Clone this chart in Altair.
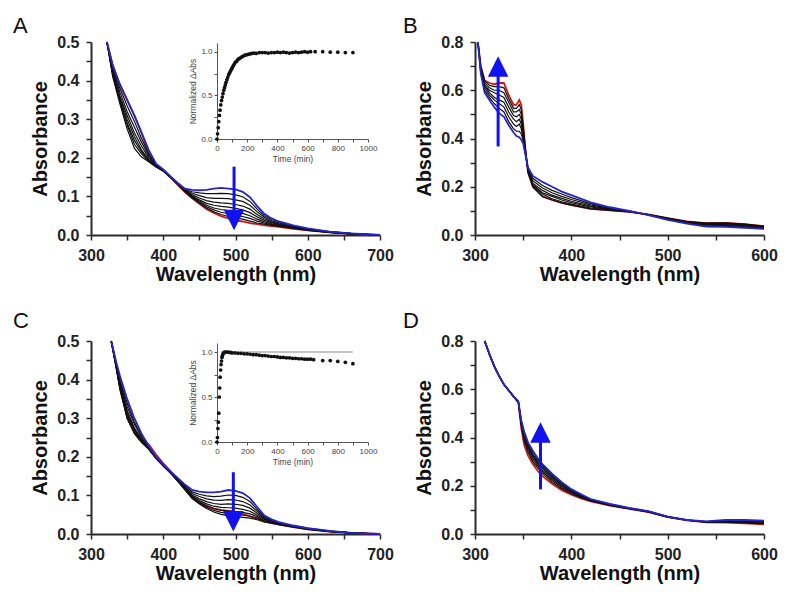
import altair as alt
import pandas as pd

# ---------------- Panel A spectra (curves ordered blue -> black ... -> red) ----------------
A_wl = [322, 330, 340, 350, 360, 370, 380, 390, 400, 410, 420, 430, 440, 450, 460, 470, 480,
        490, 500, 510, 520, 530, 540, 550, 560, 580, 600, 630, 660, 700]
A_rows = [
    [.50, .50, .50, .50, .50, .50, .50, .50, .50],
    [.44, .435, .43, .425, .42, .42, .415, .41, .44],
    [.39, .38, .37, .36, .355, .35, .345, .34, .39],
    [.35, .335, .32, .31, .30, .29, .285, .275, .35],
    [.31, .295, .28, .265, .255, .245, .235, .225, .31],
    [.265, .25, .24, .23, .22, .215, .21, .202, .265],
    [.22, .21, .205, .20, .195, .193, .19, .19, .21],
    [.185, .183, .181, .18, .179, .178, .177, .176, .178],
    [.17, .169, .168, .168, .167, .167, .166, .166, .166],
    [.152, .152, .151, .151, .15, .15, .15, .149, .149],
    [.135, .134, .134, .133, .132, .132, .131, .131, .13],
    [.12, .119, .117, .116, .115, .114, .113, .112, .111],
    [.117, .112, .108, .104, .101, .099, .097, .096, .095],
    [.116, .109, .102, .096, .091, .088, .085, .083, .081],
    [.117, .107, .097, .089, .082, .077, .073, .07, .067],
    [.12, .107, .095, .085, .077, .07, .065, .06, .057],
    [.122, .108, .095, .083, .074, .066, .059, .053, .049],
    [.12, .107, .094, .082, .072, .063, .055, .048, .043],
    [.118, .104, .091, .079, .069, .059, .051, .044, .038],
    [.112, .099, .087, .075, .065, .056, .048, .041, .035],
    [.098, .087, .077, .067, .058, .05, .043, .036, .031],
    [.075, .067, .06, .053, .047, .041, .036, .031, .028],
    [.055, .05, .046, .042, .038, .034, .031, .028, .025],
    [.043, .04, .037, .034, .032, .029, .027, .025, .023],
    [.035, .033, .031, .029, .027, .025, .023, .022, .021],
    [.025, .024, .022, .021, .02, .019, .018, .017, .016],
    [.017, .016, .015, .014, .014, .013, .013, .012, .012],
    [.009, .009, .008, .008, .008, .007, .007, .007, .007],
    [.004, .004, .004, .003, .003, .003, .003, .003, .003],
    [.0, .0, .0, .0, .0, .0, .0, .0, .0],
]
A_names = ["blue", "k1", "k2", "k3", "k4", "k5", "k6", "k7", "red"]

# ---------------- Panel B spectra (red -> black ... -> blue) ----------------
B_wl = [303, 306, 310, 315, 320, 325, 330, 335, 340, 343, 346, 348, 350, 352, 355, 360, 370,
        380, 390, 400, 420, 440, 460, 480, 500, 520, 540, 560, 580, 600]
B_rows = [
    [.80, .80, .80, .80, .80, .80, .80, .80],
    [.70, .70, .69, .69, .68, .68, .67, .67],
    [.64, .64, .63, .62, .62, .61, .60, .59],
    [.63, .62, .61, .60, .59, .58, .57, .56],
    [.625, .615, .60, .59, .57, .56, .545, .53],
    [.63, .615, .60, .58, .56, .545, .525, .505],
    [.63, .61, .59, .57, .55, .53, .51, .49],
    [.58, .565, .55, .53, .51, .49, .47, .455],
    [.54, .525, .51, .495, .48, .46, .44, .425],
    [.54, .525, .51, .49, .47, .45, .43, .41],
    [.56, .54, .52, .50, .48, .46, .43, .405],
    [.54, .52, .50, .48, .46, .44, .42, .395],
    [.46, .45, .44, .42, .41, .40, .39, .38],
    [.37, .37, .36, .355, .35, .345, .34, .34],
    [.26, .26, .265, .27, .27, .275, .28, .28],
    [.20, .20, .205, .21, .215, .225, .235, .245],
    [.16, .16, .17, .175, .185, .195, .205, .22],
    [.145, .145, .15, .16, .165, .175, .185, .20],
    [.133, .133, .138, .145, .152, .16, .17, .18],
    [.124, .124, .128, .134, .14, .147, .155, .165],
    [.108, .108, .112, .116, .12, .125, .13, .135],
    [.102, .102, .104, .106, .108, .11, .112, .115],
    [.096, .096, .097, .098, .098, .099, .10, .10],
    [.085, .085, .085, .084, .084, .083, .083, .082],
    [.07, .07, .069, .068, .067, .066, .065, .063],
    [.056, .056, .055, .054, .052, .05, .049, .047],
    [.049, .049, .048, .046, .044, .041, .038, .035],
    [.05, .05, .048, .046, .043, .04, .037, .034],
    [.045, .045, .043, .041, .038, .035, .032, .03],
    [.037, .037, .035, .033, .031, .029, .027, .025],
]
B_names = ["red", "k1", "k2", "k3", "k4", "k5", "k6", "blue"]

# ---------------- Panel C spectra (blue -> black ... -> red) ----------------
C_wl = [328, 335, 340, 350, 360, 370, 380, 390, 400, 410, 420, 430, 440, 450, 460, 470, 480,
        490, 500, 510, 520, 530, 540, 550, 560, 580, 600, 630, 660, 700]
C_rows = [
    [.50, .50, .50, .50, .50, .50, .50, .50, .50],
    [.445, .44, .44, .435, .435, .43, .43, .43, .435],
    [.41, .40, .395, .39, .385, .38, .375, .375, .385],
    [.35, .34, .33, .32, .31, .305, .30, .30, .315],
    [.30, .29, .285, .275, .27, .265, .262, .26, .27],
    [.26, .255, .25, .245, .242, .24, .238, .237, .245],
    [.228, .226, .224, .222, .221, .22, .22, .22, .232],
    [.20, .199, .198, .197, .197, .196, .196, .196, .206],
    [.18, .179, .178, .178, .177, .177, .176, .176, .183],
    [.162, .161, .16, .16, .159, .159, .158, .158, .163],
    [.145, .143, .141, .14, .139, .138, .137, .137, .14],
    [.128, .125, .122, .12, .118, .116, .115, .114, .117],
    [.114, .109, .105, .101, .098, .095, .093, .092, .096],
    [.11, .103, .097, .091, .087, .083, .08, .078, .083],
    [.108, .099, .091, .084, .078, .073, .069, .066, .073],
    [.108, .097, .088, .079, .072, .066, .061, .057, .066],
    [.11, .098, .087, .077, .069, .062, .056, .051, .062],
    [.114, .101, .089, .078, .068, .06, .053, .047, .06],
    [.112, .10, .088, .077, .067, .058, .051, .045, .057],
    [.106, .095, .084, .074, .064, .056, .049, .043, .052],
    [.093, .084, .075, .067, .059, .052, .046, .041, .046],
    [.07, .064, .059, .054, .049, .045, .041, .037, .04],
    [.048, .045, .042, .04, .038, .035, .033, .031, .032],
    [.038, .036, .034, .033, .031, .03, .029, .028, .028],
    [.031, .03, .029, .028, .027, .026, .025, .024, .024],
    [.022, .021, .021, .02, .02, .019, .019, .018, .018],
    [.015, .015, .014, .014, .013, .013, .013, .012, .012],
    [.008, .008, .007, .007, .007, .007, .007, .006, .006],
    [.003, .003, .003, .003, .003, .003, .003, .003, .003],
    [.0, .0, .0, .0, .0, .0, .0, .0, .0],
]
C_names = ["blue", "k1", "k2", "k3", "k4", "k5", "k6", "k7", "red"]

# ---------------- Panel D spectra (red -> black ... -> blue) ----------------
D_wl = [310, 315, 320, 325, 330, 335, 340, 345, 348, 351, 355, 360, 365, 370, 380, 390, 400,
        410, 420, 440, 460, 480, 500, 520, 540, 560, 580, 600]
D_rows = [
    [.80, .80, .80, .80, .80, .80, .80, .80],
    [.745, .745, .745, .745, .745, .745, .745, .745],
    [.695, .695, .695, .695, .695, .695, .695, .695],
    [.655, .655, .655, .655, .655, .655, .655, .655],
    [.62, .62, .62, .62, .62, .62, .62, .62],
    [.595, .595, .595, .595, .595, .595, .595, .595],
    [.57, .57, .57, .57, .57, .57, .57, .57],
    [.545, .545, .545, .547, .548, .549, .55, .55],
    [.44, .45, .455, .46, .463, .466, .47, .472],
    [.37, .385, .395, .40, .41, .415, .42, .425],
    [.325, .34, .35, .36, .365, .37, .375, .38],
    [.29, .30, .31, .32, .325, .33, .34, .345],
    [.262, .275, .283, .29, .297, .303, .31, .315],
    [.24, .25, .258, .265, .272, .278, .284, .29],
    [.208, .215, .222, .228, .234, .239, .244, .25],
    [.182, .188, .193, .198, .203, .207, .211, .215],
    [.163, .167, .171, .174, .177, .18, .183, .186],
    [.148, .151, .153, .155, .158, .16, .162, .165],
    [.135, .137, .138, .14, .141, .142, .144, .145],
    [.118, .119, .12, .121, .122, .123, .124, .125],
    [.104, .105, .105, .106, .106, .107, .107, .108],
    [.091, .092, .092, .093, .093, .094, .094, .095],
    [.07, .07, .071, .071, .071, .072, .072, .072],
    [.057, .057, .057, .057, .058, .058, .058, .058],
    [.048, .049, .049, .05, .05, .051, .051, .052],
    [.047, .049, .05, .052, .053, .055, .056, .058],
    [.044, .046, .048, .05, .052, .054, .056, .058],
    [.04, .042, .044, .046, .048, .05, .052, .055],
]
D_names = ["red", "k1", "k2", "k3", "k4", "k5", "k6", "blue"]

# ---------------- Insets (kinetic traces) ----------------
insetA_t = [0, 4, 8, 12, 16, 20, 25, 30, 35, 40, 45, 50, 55, 60, 66, 72, 78, 84, 90, 96, 102,
            108, 115, 122, 130, 138, 146, 155, 164, 174, 184, 195, 206, 218, 230, 245, 260, 280,
            300, 320, 340, 360, 380, 400, 420, 440, 460, 480, 500, 520, 540, 560, 580, 600, 620,
            650, 700, 750, 800, 850, 900]
insetA_v = [0.00, 0.06, 0.13, 0.20, 0.27, 0.33, 0.39, 0.44, 0.48, 0.52, 0.56, 0.59, 0.62, 0.65,
            0.68, 0.71, 0.74, 0.76, 0.78, 0.80, 0.82, 0.84, 0.86, 0.88, 0.89, 0.91, 0.92, 0.93,
            0.94, 0.95, 0.96, 0.965, 0.97, 0.975, 0.98, 0.985, 0.98, 0.99, 0.99, 0.99, 0.985,
            0.99, 0.99, 0.995, 0.99, 0.995, 0.99, 0.985, 0.99, 0.995, 0.99, 0.995, 1.0, 0.995,
            1.0, 1.0, 1.0, 0.995, 0.995, 0.99, 0.99]
insetC_t = [0, 3, 6, 9, 12, 15, 18, 21, 24, 27, 30, 33, 36, 40, 45, 50, 60, 70, 80, 90, 100, 120,
            140, 160, 180, 200, 220, 240, 260, 280, 300, 320, 340, 360, 380, 400, 420, 440, 460,
            480, 500, 520, 540, 560, 580, 600, 620, 640, 700, 750, 800, 850, 900]
insetC_v = [0.0, 0.05, 0.15, 0.22, 0.32, 0.5, 0.6, 0.72, 0.8, 0.86, 0.9, 0.94, 0.96, 0.98, 0.99,
            1.0, 1.0, 1.0, 0.995, 0.995, 0.99, 0.99, 0.985, 0.985, 0.98, 0.98, 0.975, 0.97, 0.97,
            0.965, 0.96, 0.96, 0.955, 0.95, 0.95, 0.945, 0.94, 0.94, 0.935, 0.935, 0.93, 0.93,
            0.925, 0.925, 0.92, 0.92, 0.92, 0.915, 0.905, 0.905, 0.895, 0.885, 0.87]
insetC_ref_t = [25]
insetC_ref_t2 = [900]
insetC_ref_v = [1.0]

# ---------------- Arrows (x, tail y, neck y, head-centre y) ----------------
arrow_x = [498, 324, 497, 368]
arrow_tail = [0.177, 0.367, 0.16, 0.185]
arrow_neck = [0.045, 0.70, 0.04, 0.42]
arrow_head = [0.039, 0.6985, 0.033, 0.421]
arrow_dir = ["down", "up", "down", "up"]

# ---------------- helpers ----------------
FONT = "Liberation Sans"
W, H = 289, 193
BLACK_LINE = "#111111"
RED = "#d01818"
BLUE = "#2626c8"
ARROW = "#1212f0"

main_axis = dict(domainColor="#2a2a2a", domainWidth=2, tickColor="#2a2a2a", tickWidth=1.5,
                 tickSize=5, labelFont=FONT, labelFontSize=16, labelFontWeight="bold",
                 labelColor="#222222", titleFont=FONT, titleFontSize=20, titleFontWeight="bold",
                 titleColor="#111111", grid=False, labelFlush=False, labelOverlap=False)
inset_axis = dict(domainColor="#555555", domainWidth=1, tickColor="#555555", tickWidth=1,
                  tickSize=3, labelFont=FONT, labelFontSize=8, labelFontWeight="normal",
                  labelColor="#444444", titleFont=FONT, titleFontSize=8.5,
                  titleFontWeight="normal", titleColor="#444444", grid=False, labelFlush=False,
                  labelOverlap=False, labelPadding=2)


def long_df(wl, rows, names):
    recs = []
    for w, row in zip(wl, rows):
        for n, v in zip(names, row):
            recs.append({"wl": w, "abs": v, "curve": n})
    return pd.DataFrame(recs)


def panel(wl, rows, names, xdom, xvals, ydom, yvals, ymult, ai, letter, ldx, loff, inset=None):
    df = long_df(wl, rows, names)
    x_enc = alt.X("wl:Q", scale=alt.Scale(domain=xdom, nice=False, zero=False),
                  axis=alt.Axis(values=xvals, title="Wavelength (nm)",
                                labelExpr="datum.value % 100 == 0 ? datum.label : ''",
                                labelPadding=7, titlePadding=1, **main_axis))
    y_enc = alt.Y("abs:Q", scale=alt.Scale(domain=ydom, nice=False),
                  axis=alt.Axis(values=yvals, title="Absorbance", format=".1f",
                                labelExpr=f"abs(round(datum.value*{ymult})) % 2 == 0 ? datum.label : ''",
                                labelPadding=7, titlePadding=6, **main_axis))
    base = alt.Chart(df).encode(x=x_enc, y=y_enc, detail="curve:N")
    blacks = base.transform_filter("indexof(datum.curve, 'k') == 0").mark_line(
        color=BLACK_LINE, strokeWidth=1.2)
    red = base.transform_filter("datum.curve == 'red'").mark_line(color=RED, strokeWidth=1.8)
    blue = base.transform_filter("datum.curve == 'blue'").mark_line(color=BLUE, strokeWidth=1.8)

    shaft_df = pd.DataFrame({"wl": [arrow_x[ai]], "abs": [arrow_tail[ai]], "abs2": [arrow_neck[ai]]})
    head_df = pd.DataFrame({"wl": [arrow_x[ai]], "abs": [arrow_head[ai]]})
    shaft = alt.Chart(shaft_df).mark_rule(color=ARROW, strokeWidth=3).encode(
        x=x_enc, y=y_enc, y2="abs2:Q")
    path = "M-1,-1L1,-1L0,1Z" if arrow_dir[ai] == "down" else "M-1,1L1,1L0,-1Z"
    head = alt.Chart(head_df).mark_point(shape=path, filled=True, size=420, color=ARROW,
                                         opacity=1, strokeWidth=0).encode(x=x_enc, y=y_enc)

    main = alt.layer(red, blacks, blue, shaft, head)
    title = alt.TitleParams(text=letter, anchor="start", frame="group", dx=ldx, offset=loff,
                            fontSize=22, fontWeight="normal", font=FONT, color="#111111")
    if inset is None:
        return main.properties(width=W, height=H, title=title)

    t, v, xr, yr, xoff, yoff, ref = inset
    idf = pd.DataFrame({"t": t, "n": v})
    ix = alt.X("t:Q", scale=alt.Scale(domain=[0, 1000], range=xr, nice=False, zero=False),
               axis=alt.Axis(orient="bottom", offset=xoff, values=list(range(0, 1001, 100)),
                             format="d",
                             labelExpr="datum.value % 200 == 0 ? datum.label : ''",
                             title="Time (min)", titlePadding=2, **inset_axis))
    iy = alt.Y("n:Q", scale=alt.Scale(domain=[0, 1.1], range=yr, nice=False),
               axis=alt.Axis(orient="left", offset=yoff, values=[0, 0.25, 0.5, 0.75, 1.0],
                             format=".1f",
                             labelExpr="abs(round(datum.value*4)) % 2 == 0 ? datum.label : ''",
                             title="Normalized ΔAbs", titlePadding=3, **inset_axis))
    ilayers = []
    if ref is not None:
        rdf = pd.DataFrame({"t": ref[0], "t2": ref[1], "n": ref[2]})
        ilayers.append(alt.Chart(rdf).mark_rule(color="#8a8a8a", strokeWidth=1).encode(
            x=ix, x2="t2:Q", y=iy))
    ilayers.append(alt.Chart(idf).mark_circle(size=14, color="#111111", opacity=1).encode(
        x=ix, y=iy))
    ins = alt.layer(*ilayers)
    return alt.layer(main, ins).resolve_scale(x="independent", y="independent").properties(
        width=W, height=H, title=title)


xA = list(range(300, 701, 50))
xB = list(range(300, 601, 50))
yA = [round(0.05 * i, 2) for i in range(11)]
yB = [round(0.1 * i, 1) for i in range(9)]

pA = panel(A_wl, A_rows, A_names, [300, 700], xA, [0, 0.5], yA, 20, 0, "A", -78, -4,
           inset=(insetA_t, insetA_v, [126, 277], [97, 1], -96, -126, None))
pB = panel(B_wl, B_rows, B_names, [300, 600], xB, [0, 0.8], yB, 10, 1, "B", -72, -4)
pC = panel(C_wl, C_rows, C_names, [300, 700], xA, [0, 0.5], yA, 20, 2, "C", -78, 0,
           inset=(insetC_t, insetC_v, [126, 277], [101, 2], -92, -126,
                  (insetC_ref_t, insetC_ref_t2, insetC_ref_v)))
pD = panel(D_wl, D_rows, D_names, [300, 600], xB, [0, 0.8], yB, 10, 3, "D", -72, 0)

chart = alt.concat(pA, pB, pC, pD, columns=2, spacing={"row": 106, "column": 95},
                   bounds="flush").configure_view(stroke=None).properties(
    background="white", padding={"left": 5, "top": 7, "right": 5, "bottom": 5})

chart.save("out.html", embed_options={"renderer": "svg", "actions": False})
